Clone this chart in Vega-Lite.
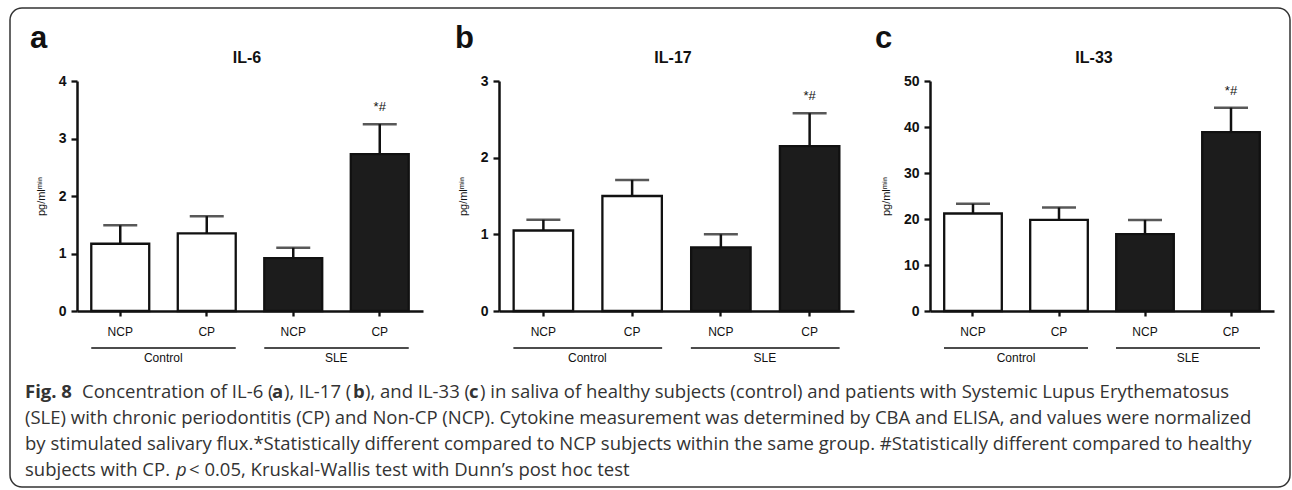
{
  "$schema": "https://vega.github.io/schema/vega-lite/v6.json",
  "background": "white",
  "padding": {"left": 9, "top": 7, "right": 1, "bottom": 1},
  "bounds": "flush",
  "align": "each",
  "columns": 3,
  "spacing": {"row": 68, "column": 76},
  "datasets": {
    "il6": [
      {"cat": "Control NCP", "group": "Control", "mean": 1.17, "upper": 1.49, "sig": ""},
      {"cat": "Control CP", "group": "Control", "mean": 1.35, "upper": 1.65, "sig": ""},
      {"cat": "SLE NCP", "group": "SLE", "mean": 0.92, "upper": 1.10, "sig": ""},
      {"cat": "SLE CP", "group": "SLE", "mean": 2.73, "upper": 3.25, "sig": "*#"}
    ],
    "il17": [
      {"cat": "Control NCP", "group": "Control", "mean": 1.05, "upper": 1.19, "sig": ""},
      {"cat": "Control CP", "group": "Control", "mean": 1.50, "upper": 1.71, "sig": ""},
      {"cat": "SLE NCP", "group": "SLE", "mean": 0.83, "upper": 1.00, "sig": ""},
      {"cat": "SLE CP", "group": "SLE", "mean": 2.15, "upper": 2.58, "sig": "*#"}
    ],
    "il33": [
      {"cat": "Control NCP", "group": "Control", "mean": 21.2, "upper": 23.3, "sig": ""},
      {"cat": "Control CP", "group": "Control", "mean": 19.8, "upper": 22.5, "sig": ""},
      {"cat": "SLE NCP", "group": "SLE", "mean": 16.7, "upper": 19.8, "sig": ""},
      {"cat": "SLE CP", "group": "SLE", "mean": 38.9, "upper": 44.2, "sig": "*#"}
    ],
    "groups": [
      {"cat": "Control NCP", "cat2": "Control CP", "group": "Control"},
      {"cat": "SLE NCP", "cat2": "SLE CP", "group": "SLE"}
    ]
  },
  "concat": [
    {
      "width": 346, "height": 230,
      "layer": [
        {"data": {"name": "il6"}, "mark": {"type": "bar", "stroke": "#111", "strokeWidth": 2.3},
         "encoding": {
           "x": {"field": "cat", "type": "nominal", "title": null, "scale": {"domain": ["Control NCP", "Control CP", "SLE NCP", "SLE CP"], "paddingInner": 0.33, "paddingOuter": 0.165}, "axis": {"labelExpr": "split(datum.label, ' ')[1]"}},
           "y": {"field": "mean", "type": "quantitative", "title": "pg/mlᵐⁱⁿ", "scale": {"domain": [0, 4], "nice": false}, "axis": {"values": [0, 1, 2, 3, 4], "format": "d"}},
           "fill": {"field": "group", "type": "nominal", "scale": {"domain": ["Control", "SLE"], "range": ["#ffffff", "#1c1c1c"]}, "legend": null}
         }},
        {"data": {"name": "il6"}, "mark": {"type": "rule", "color": "#111", "strokeWidth": 2.5},
         "encoding": {"x": {"field": "cat", "type": "nominal", "title": null}, "y": {"field": "mean", "type": "quantitative", "title": "pg/mlᵐⁱⁿ"}, "y2": {"field": "upper"}}},
        {"data": {"name": "il6"}, "mark": {"type": "tick", "color": "#111", "thickness": 2.5, "size": 34},
         "encoding": {"x": {"field": "cat", "type": "nominal", "title": null}, "y": {"field": "upper", "type": "quantitative", "title": "pg/mlᵐⁱⁿ"}}},
        {"data": {"name": "il6"}, "mark": {"type": "text", "dy": -13, "fontSize": 13, "font": "Liberation Sans", "color": "#111", "baseline": "alphabetic"},
         "encoding": {"x": {"field": "cat", "type": "nominal", "title": null}, "y": {"field": "upper", "type": "quantitative", "title": "pg/mlᵐⁱⁿ"}, "text": {"field": "sig"}}},
        {"data": {"name": "groups"}, "mark": {"type": "rule", "color": "#111", "strokeWidth": 1.3, "xOffset": -29, "x2Offset": 29},
         "encoding": {"x": {"field": "cat", "type": "nominal", "title": null}, "x2": {"field": "cat2"}, "y": {"value": 267}}},
        {"data": {"name": "groups"}, "mark": {"type": "text", "fontSize": 12, "font": "Liberation Sans", "color": "#111", "baseline": "middle", "xOffset": 43},
         "encoding": {"x": {"field": "cat", "type": "nominal", "title": null}, "y": {"value": 277}, "text": {"field": "group"}}},
        {"data": {"values": [{"label": "IL-6"}]}, "mark": {"type": "text", "fontSize": 16, "fontWeight": "bold", "font": "Liberation Sans", "color": "#111", "baseline": "middle"},
         "encoding": {"x": {"value": 170}, "y": {"value": -23}, "text": {"field": "label"}}},
        {"data": {"values": [{"label": "a"}]}, "mark": {"type": "text", "fontSize": 31, "fontWeight": "bold", "font": "Liberation Sans", "color": "#111", "baseline": "alphabetic", "align": "left"},
         "encoding": {"x": {"value": -47}, "y": {"value": -33}, "text": {"field": "label"}}}
      ]
    },
    {
      "width": 355, "height": 230,
      "layer": [
        {"data": {"name": "il17"}, "mark": {"type": "bar", "stroke": "#111", "strokeWidth": 2.3},
         "encoding": {
           "x": {"field": "cat", "type": "nominal", "title": null, "scale": {"domain": ["Control NCP", "Control CP", "SLE NCP", "SLE CP"], "paddingInner": 0.33, "paddingOuter": 0.165}, "axis": {"labelExpr": "split(datum.label, ' ')[1]"}},
           "y": {"field": "mean", "type": "quantitative", "title": "pg/mlᵐⁱⁿ", "scale": {"domain": [0, 3], "nice": false}, "axis": {"values": [0, 1, 2, 3], "format": "d"}},
           "fill": {"field": "group", "type": "nominal", "scale": {"domain": ["Control", "SLE"], "range": ["#ffffff", "#1c1c1c"]}, "legend": null}
         }},
        {"data": {"name": "il17"}, "mark": {"type": "rule", "color": "#111", "strokeWidth": 2.5},
         "encoding": {"x": {"field": "cat", "type": "nominal", "title": null}, "y": {"field": "mean", "type": "quantitative", "title": "pg/mlᵐⁱⁿ"}, "y2": {"field": "upper"}}},
        {"data": {"name": "il17"}, "mark": {"type": "tick", "color": "#111", "thickness": 2.5, "size": 34},
         "encoding": {"x": {"field": "cat", "type": "nominal", "title": null}, "y": {"field": "upper", "type": "quantitative", "title": "pg/mlᵐⁱⁿ"}}},
        {"data": {"name": "il17"}, "mark": {"type": "text", "dy": -13, "fontSize": 13, "font": "Liberation Sans", "color": "#111", "baseline": "alphabetic"},
         "encoding": {"x": {"field": "cat", "type": "nominal", "title": null}, "y": {"field": "upper", "type": "quantitative", "title": "pg/mlᵐⁱⁿ"}, "text": {"field": "sig"}}},
        {"data": {"name": "groups"}, "mark": {"type": "rule", "color": "#111", "strokeWidth": 1.3, "xOffset": -30, "x2Offset": 30},
         "encoding": {"x": {"field": "cat", "type": "nominal", "title": null}, "x2": {"field": "cat2"}, "y": {"value": 267}}},
        {"data": {"name": "groups"}, "mark": {"type": "text", "fontSize": 12, "font": "Liberation Sans", "color": "#111", "baseline": "middle", "xOffset": 44},
         "encoding": {"x": {"field": "cat", "type": "nominal", "title": null}, "y": {"value": 277}, "text": {"field": "group"}}},
        {"data": {"values": [{"label": "IL-17"}]}, "mark": {"type": "text", "fontSize": 16, "fontWeight": "bold", "font": "Liberation Sans", "color": "#111", "baseline": "middle"},
         "encoding": {"x": {"value": 174}, "y": {"value": -23}, "text": {"field": "label"}}},
        {"data": {"values": [{"label": "b"}]}, "mark": {"type": "text", "fontSize": 31, "fontWeight": "bold", "font": "Liberation Sans", "color": "#111", "baseline": "alphabetic", "align": "left"},
         "encoding": {"x": {"value": -44}, "y": {"value": -33}, "text": {"field": "label"}}}
      ]
    },
    {
      "width": 344, "height": 230,
      "layer": [
        {"data": {"name": "il33"}, "mark": {"type": "bar", "stroke": "#111", "strokeWidth": 2.3},
         "encoding": {
           "x": {"field": "cat", "type": "nominal", "title": null, "scale": {"domain": ["Control NCP", "Control CP", "SLE NCP", "SLE CP"], "paddingInner": 0.33, "paddingOuter": 0.165}, "axis": {"labelExpr": "split(datum.label, ' ')[1]"}},
           "y": {"field": "mean", "type": "quantitative", "title": "pg/mlᵐⁱⁿ", "scale": {"domain": [0, 50], "nice": false}, "axis": {"values": [0, 10, 20, 30, 40, 50], "format": "d"}},
           "fill": {"field": "group", "type": "nominal", "scale": {"domain": ["Control", "SLE"], "range": ["#ffffff", "#1c1c1c"]}, "legend": null}
         }},
        {"data": {"name": "il33"}, "mark": {"type": "rule", "color": "#111", "strokeWidth": 2.5},
         "encoding": {"x": {"field": "cat", "type": "nominal", "title": null}, "y": {"field": "mean", "type": "quantitative", "title": "pg/mlᵐⁱⁿ"}, "y2": {"field": "upper"}}},
        {"data": {"name": "il33"}, "mark": {"type": "tick", "color": "#111", "thickness": 2.5, "size": 34},
         "encoding": {"x": {"field": "cat", "type": "nominal", "title": null}, "y": {"field": "upper", "type": "quantitative", "title": "pg/mlᵐⁱⁿ"}}},
        {"data": {"name": "il33"}, "mark": {"type": "text", "dy": -13, "fontSize": 13, "font": "Liberation Sans", "color": "#111", "baseline": "alphabetic"},
         "encoding": {"x": {"field": "cat", "type": "nominal", "title": null}, "y": {"field": "upper", "type": "quantitative", "title": "pg/mlᵐⁱⁿ"}, "text": {"field": "sig"}}},
        {"data": {"name": "groups"}, "mark": {"type": "rule", "color": "#111", "strokeWidth": 1.3, "xOffset": -29, "x2Offset": 29},
         "encoding": {"x": {"field": "cat", "type": "nominal", "title": null}, "x2": {"field": "cat2"}, "y": {"value": 267}}},
        {"data": {"name": "groups"}, "mark": {"type": "text", "fontSize": 12, "font": "Liberation Sans", "color": "#111", "baseline": "middle", "xOffset": 43},
         "encoding": {"x": {"field": "cat", "type": "nominal", "title": null}, "y": {"value": 277}, "text": {"field": "group"}}},
        {"data": {"values": [{"label": "IL-33"}]}, "mark": {"type": "text", "fontSize": 16, "fontWeight": "bold", "font": "Liberation Sans", "color": "#111", "baseline": "middle"},
         "encoding": {"x": {"value": 164}, "y": {"value": -23}, "text": {"field": "label"}}},
        {"data": {"values": [{"label": "c"}]}, "mark": {"type": "text", "fontSize": 31, "fontWeight": "bold", "font": "Liberation Sans", "color": "#111", "baseline": "alphabetic", "align": "left"},
         "encoding": {"x": {"value": -55}, "y": {"value": -33}, "text": {"field": "label"}}}
      ]
    },
    {
      "width": 346, "height": 104,
      "encoding": {"y": {"field": "line", "type": "ordinal", "scale": {"type": "point", "domain": [1, 2, 3, 4], "padding": 0.5}, "axis": null}, "text": {"field": "text"}},
      "layer": [
        {"data": {"values": [{"box": 1}]}, "mark": {"type": "rect", "x": -67, "y": -371, "x2": 1213, "y2": 108, "cornerRadius": 12, "fill": "white", "fillOpacity": 0, "stroke": "#333", "strokeWidth": 1.5}, "encoding": {"y": null, "text": null}},
        {"data": {"values": [
          {"line": 2, "text": "(SLE) with chronic periodontitis (CP) and Non-CP (NCP). Cytokine measurement was determined by CBA and ELISA, and values were normalized"},
          {"line": 3, "text": "by stimulated salivary flux.*Statistically different compared to NCP subjects within the same group. #Statistically different compared to healthy"},
          {"line": 4, "text": "subjects with CP."}
        ]},
         "mark": {"type": "text", "align": "left", "baseline": "middle", "x": -52, "font": "Open Sans", "fontSize": 18.5, "color": "#333"}},
        {"data": {"values": [{"line": 1, "text": "Fig. 8"}]},
         "mark": {"type": "text", "align": "left", "baseline": "middle", "x": -52, "font": "Open Sans", "fontSize": 18.5, "fontWeight": "bold", "color": "#333"}},
        {"data": {"values": [{"line": 1, "text": "Concentration of IL-6 ("}]},
         "mark": {"type": "text", "align": "left", "baseline": "middle", "x": 5, "font": "Open Sans", "fontSize": 18.5, "color": "#333"}},
        {"data": {"values": [{"line": 1, "text": "a"}]},
         "mark": {"type": "text", "align": "left", "baseline": "middle", "x": 195, "font": "Open Sans", "fontSize": 18.5, "fontWeight": "bold", "color": "#333"}},
        {"data": {"values": [{"line": 1, "text": "), IL-17 ("}]},
         "mark": {"type": "text", "align": "left", "baseline": "middle", "x": 207, "font": "Open Sans", "fontSize": 18.5, "color": "#333"}},
        {"data": {"values": [{"line": 1, "text": "b"}]},
         "mark": {"type": "text", "align": "left", "baseline": "middle", "x": 276, "font": "Open Sans", "fontSize": 18.5, "fontWeight": "bold", "color": "#333"}},
        {"data": {"values": [{"line": 1, "text": "), and IL-33 ("}]},
         "mark": {"type": "text", "align": "left", "baseline": "middle", "x": 288, "font": "Open Sans", "fontSize": 18.5, "color": "#333"}},
        {"data": {"values": [{"line": 1, "text": "c"}]},
         "mark": {"type": "text", "align": "left", "baseline": "middle", "x": 392, "font": "Open Sans", "fontSize": 18.5, "fontWeight": "bold", "color": "#333"}},
        {"data": {"values": [{"line": 1, "text": ") in saliva of healthy subjects (control) and patients with Systemic Lupus Erythematosus"}]},
         "mark": {"type": "text", "align": "left", "baseline": "middle", "x": 403, "font": "Open Sans", "fontSize": 18.5, "color": "#333"}},
        {"data": {"values": [{"line": 4, "text": "p"}]},
         "mark": {"type": "text", "align": "left", "baseline": "middle", "x": 99, "font": "Open Sans", "fontSize": 18.5, "fontStyle": "italic", "color": "#333"}},
        {"data": {"values": [{"line": 4, "text": "< 0.05, Kruskal-Wallis test with Dunn’s post hoc test"}]},
         "mark": {"type": "text", "align": "left", "baseline": "middle", "x": 112, "font": "Open Sans", "fontSize": 18.5, "color": "#333"}}
      ]
    }
  ],
  "config": {
    "view": {"stroke": null},
    "font": "Liberation Sans",
    "axis": {"domainColor": "#111", "domainWidth": 2.5, "tickColor": "#111", "tickWidth": 2.3, "labelColor": "#111", "labelFont": "Liberation Sans", "titleFont": "Liberation Sans", "titleColor": "#111", "grid": false},
    "axisX": {"labelFontSize": 12, "tickSize": 5, "labelPadding": 10, "labelAngle": 0},
    "axisY": {"labelFontSize": 14, "labelFontWeight": "bold", "tickSize": 6, "labelPadding": 5, "titleFontSize": 11, "titleFontWeight": "normal", "titlePadding": 12}
  }
}
